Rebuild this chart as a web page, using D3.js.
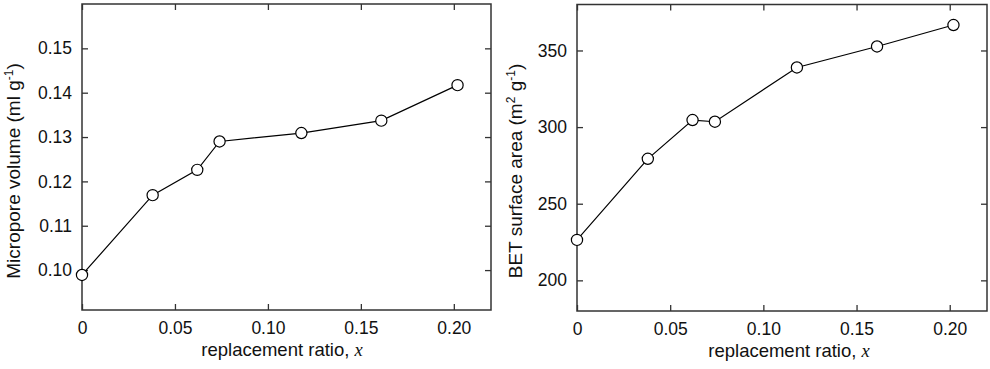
<!DOCTYPE html>
<html>
<head>
<meta charset="utf-8">
<script src="https://cdn.jsdelivr.net/npm/d3@7"></script>
<style>
  body { margin: 0; background: #fff; }
  svg { display: block; font-family: Arial, "Liberation Sans", sans-serif; }
  .tick text { font-size: 17.5px; fill: #111; }
  .tick line { stroke: #333; stroke-width: 1.3; }
</style>
</head>
<body>
<div id="chart"></div>
<script>
// replacement ratio (x) shared by both panels
var ratio = [0, 0.038, 0.062, 0.074, 0.118, 0.161, 0.202];
var microporeVolume = [0.0989, 0.1169, 0.1226, 0.1290, 0.1309, 0.1337, 0.1417];
var betArea = [226.4, 279.3, 304.6, 303.5, 338.9, 352.6, 366.6];

var xTicks = [0, 0.05, 0.10, 0.15, 0.20];
var xTickLabels = ['0', '0.05', '0.10', '0.15', '0.20'];
var leftYTicks = [0.10, 0.11, 0.12, 0.13, 0.14, 0.15];
var leftYTickLabels = ['0.10', '0.11', '0.12', '0.13', '0.14', '0.15'];
var rightYTicks = [200, 250, 300, 350];
var rightYTickLabels = ['200', '250', '300', '350'];

var width = 990;
var height = 369;

var svg = d3.select('#chart')
  .append('svg')
  .attr('width', width)
  .attr('height', height);

function drawPanel (opts) {
  var x = d3.scaleLinear().domain([0, 0.22]).range([opts.left, opts.right]);
  var y = d3.scaleLinear().domain(opts.yDomain).range([opts.bottom, opts.top]);
  var g = svg.append('g');

  // bottom axis with labels, top axis mirrored
  g.append('g')
    .attr('transform', 'translate(0,' + opts.bottom + ')')
    .call(d3.axisBottom(x).tickValues(xTicks).tickSize(-6).tickPadding(12)
      .tickFormat(function (d, i) { return xTickLabels[i]; }));
  g.append('g')
    .attr('transform', 'translate(0,' + opts.top + ')')
    .call(d3.axisTop(x).tickValues(xTicks).tickSize(-6).tickFormat(''));

  g.append('g')
    .attr('transform', 'translate(' + opts.left + ',0)')
    .call(d3.axisLeft(y).tickValues(opts.yTicks).tickSize(-6).tickPadding(10)
      .tickFormat(function (d, i) { return opts.yTickLabels[i]; }));
  g.append('g')
    .attr('transform', 'translate(' + opts.right + ',0)')
    .call(d3.axisRight(y).tickValues(opts.yTicks).tickSize(-6).tickFormat(''));

  g.selectAll('.domain').remove();
  g.selectAll('.tick text').attr('font-family', 'Arial, "Liberation Sans", sans-serif');

  g.append('rect')
    .attr('x', opts.left)
    .attr('y', opts.top)
    .attr('width', opts.right - opts.left)
    .attr('height', opts.bottom - opts.top)
    .attr('fill', 'none')
    .attr('stroke', '#333')
    .attr('stroke-width', 1.5);

  var pts = ratio.map(function (r, i) { return [r, opts.values[i]]; });

  g.append('path')
    .datum(pts)
    .attr('fill', 'none')
    .attr('stroke', '#000')
    .attr('stroke-width', 1.2)
    .attr('d', d3.line().x(function (d) { return x(d[0]); }).y(function (d) { return y(d[1]); }));

  g.selectAll('circle')
    .data(pts)
    .enter()
    .append('circle')
    .attr('cx', function (d) { return x(d[0]); })
    .attr('cy', function (d) { return y(d[1]); })
    .attr('r', 5.6)
    .attr('fill', '#fff')
    .attr('stroke', '#000')
    .attr('stroke-width', 1.2);

  // x axis title
  var xt = g.append('text')
    .attr('x', opts.xTitleX)
    .attr('y', opts.xTitleY)
    .attr('text-anchor', 'middle')
    .attr('font-size', 18.5)
    .attr('fill', '#111');
  xt.append('tspan').text('replacement ratio, ');
  xt.append('tspan')
    .attr('font-family', '"Liberation Serif", "DejaVu Serif", serif')
    .attr('font-style', 'italic')
    .text('x');

  // y axis title
  var yt = g.append('text')
    .attr('transform', 'translate(' + opts.yTitleX + ',' + opts.yTitleY + ') rotate(-90)')
    .attr('text-anchor', 'middle')
    .attr('font-size', 19)
    .attr('fill', '#111');
  opts.yTitle.forEach(function (part) {
    var t = yt.append('tspan').text(part.text);
    if (part.sup) {
      t.attr('font-size', 12).attr('dy', -7);
    } else if (part.after) {
      t.attr('dy', 7);
    }
  });
}

drawPanel({
  left: 82, right: 491, top: 4, bottom: 310,
  yDomain: [0.091, 0.16],
  yTicks: leftYTicks,
  yTickLabels: leftYTickLabels,
  values: microporeVolume,
  xTitleX: 282, xTitleY: 356,
  yTitleX: 20, yTitleY: 171,
  yTitle: [{ text: 'Micropore volume (ml g' }, { text: '-1', sup: true }, { text: ')', after: true }]
});

drawPanel({
  left: 577, right: 987, top: 4.5, bottom: 311,
  yDomain: [180, 380],
  yTicks: rightYTicks,
  yTickLabels: rightYTickLabels,
  values: betArea,
  xTitleX: 789, xTitleY: 357,
  yTitleX: 522, yTitleY: 171,
  yTitle: [{ text: 'BET surface area (m' }, { text: '2', sup: true }, { text: ' g', after: true },
           { text: '-1', sup: true }, { text: ')', after: true }]
});
</script>
</body>
</html>
